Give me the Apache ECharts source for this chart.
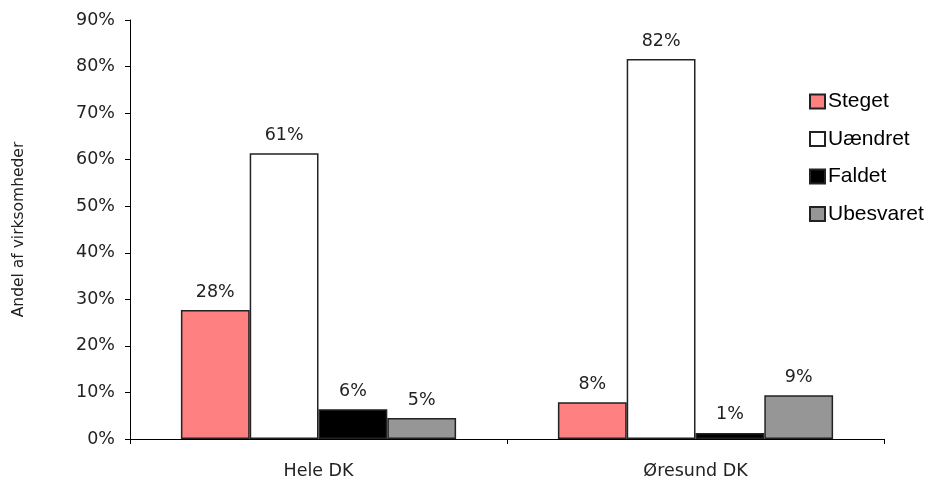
<!DOCTYPE html>
<html><head><meta charset="utf-8">
<script src="https://cdn.jsdelivr.net/npm/echarts@6/dist/echarts.min.js"></script>
<style>html,body{margin:0;padding:0;background:#fff}#c{width:932px;height:478px}</style>
</head><body><div id="c"></div>
<script>
const categories = ['Hele DK', 'Øresund DK'];
const seriesNames = ['Steget', 'Uændret', 'Faldet', 'Ubesvaret'];
const steget = [27.7, 7.9];
const uaendret = [61.4, 81.6];
const faldet = [6.4, 1.3];
const ubesvaret = [4.5, 9.4];
const colors = ['#FF8080', '#FFFFFF', '#000000', '#969696'];
const yTicks = [0, 10, 20, 30, 40, 50, 60, 70, 80, 90];

const values = [steget, uaendret, faldet, ubesvaret];
const font = '"DejaVu Sans", Verdana, sans-serif';
const chart = echarts.init(document.getElementById('c'));
chart.setOption({
  animation: false,
  grid: { left: 130, right: 48, top: 20, bottom: 39, containLabel: false, outerBoundsMode: 'none' },
  legend: {
    orient: 'vertical', left: 809, top: 91, padding: 0, itemGap: 16.5, itemWidth: 15, itemHeight: 14,
    textStyle: { fontFamily: '"Liberation Sans", Arial, sans-serif', fontSize: 21, color: '#000', padding: [0,0,0,-2] },
    icon: 'rect',
    data: seriesNames
  },
  xAxis: {
    type: 'category', data: categories,
    axisLine: { lineStyle: { color: '#000', width: 1 } },
    axisTick: { show: true, length: 5, lineStyle: { color: '#000' } },
    axisLabel: { fontFamily: font, fontSize: 17.5, color: '#222', margin: 23 }
  },
  yAxis: {
    type: 'value', min: yTicks[0], max: yTicks[yTicks.length - 1], interval: 10,
    name: 'Andel af virksomheder', nameLocation: 'middle', nameGap: 103, nameRotate: 90,
    nameTextStyle: { fontFamily: font, fontSize: 15.5, color: '#222' },
    axisLine: { show: true, lineStyle: { color: '#000', width: 1 } },
    axisTick: { show: true, length: 5, inside: false, lineStyle: { color: '#000' } },
    splitLine: { show: false },
    axisLabel: { fontFamily: font, fontSize: 17.5, color: '#222', margin: 15, formatter: v => v + '%' }
  },
  series: seriesNames.map((n, i) => ({
    name: n, type: 'bar', data: values[i],
    barGap: '0%', barCategoryGap: '27%',
    itemStyle: { color: colors[i], borderColor: '#222', borderWidth: 1.5 },
    label: { show: true, position: 'top', distance: 9, fontFamily: font, fontSize: 17.5, color: '#222',
      formatter: p => Math.round(p.value) + '%' }
  }))
});
</script></body></html>
